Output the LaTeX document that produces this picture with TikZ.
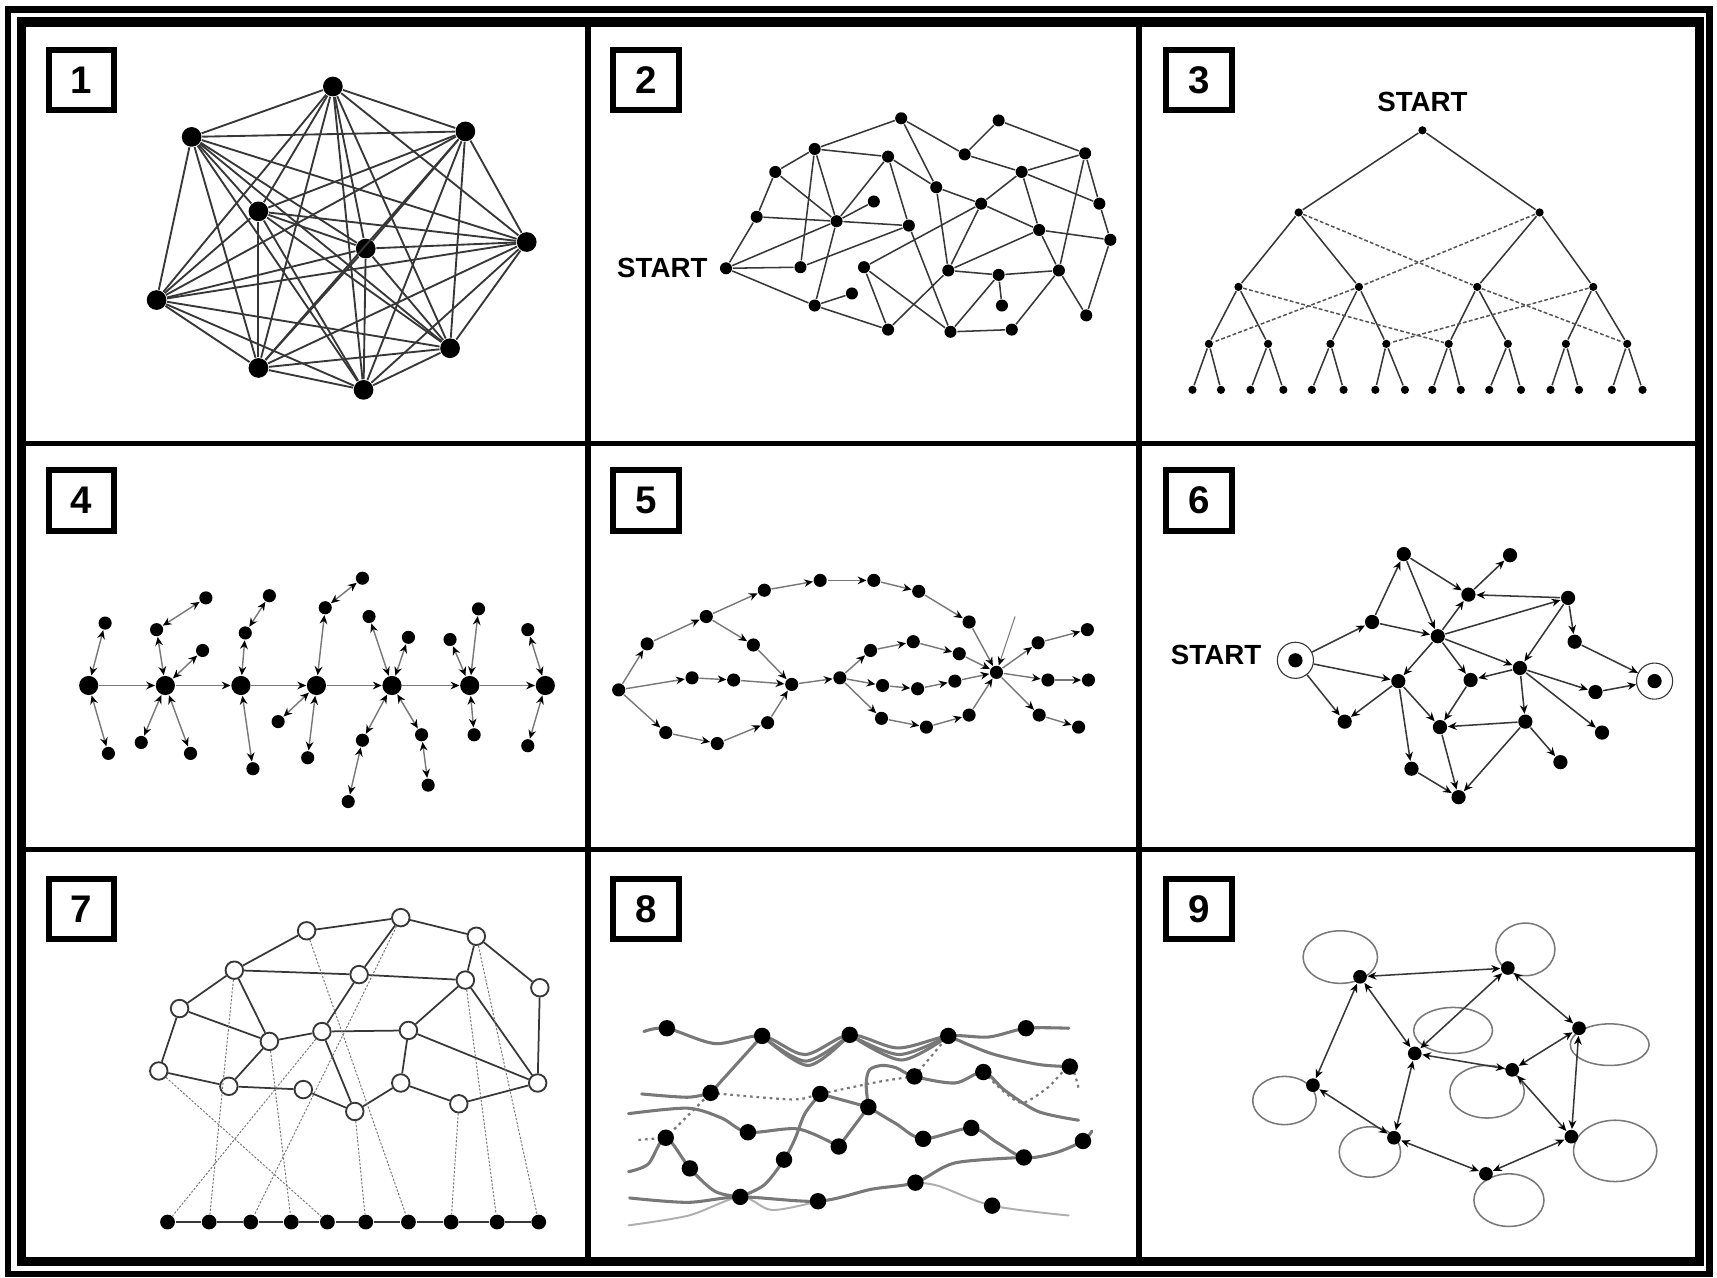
\documentclass[tikz,border=0pt]{standalone}
\usepackage{fontspec}
\setmainfont{Liberation Sans}
\usetikzlibrary{positioning,arrows.meta}
\definecolor{dgray}{RGB}{55,55,55}
\definecolor{mgray}{RGB}{120,120,120}
\definecolor{lgray}{RGB}{175,175,175}

\begin{document}
\begin{tikzpicture}[x=0.1mm, y=-0.1mm, >={Stealth[length=0.8mm, width=0.7mm, color=black]},
    blob/.style={circle, fill=black, inner sep=0pt, minimum size=#1},
    hollow/.style={circle, draw=dgray, fill=white, line width=0.17mm, inner sep=0pt, minimum size=1.6mm},
    halo/.style={circle, draw=dgray, line width=0.1mm, inner sep=0pt, minimum size=3.3mm},
    numbox/.style={draw, line width=0.55mm, minimum width=6mm, minimum height=5.5mm, inner sep=0pt, font=\fontsize{10}{12}\selectfont\bfseries},
    lbl/.style={inner sep=0pt, font=\fontsize{7.2}{8}\selectfont\bfseries},
    link/.style={draw=dgray, line width=0.14mm},
    xlink/.style={draw=dgray!85, line width=0.14mm, dash pattern=on 0.35mm off 0.2mm},
    spoke/.style={draw=mgray, line width=0.13mm},
    drop/.style={draw=mgray, line width=0.09mm, dash pattern=on 0.2mm off 0.15mm},
    wire/.style={draw=mgray, line width=0.28mm, line cap=round},
    faint/.style={draw=lgray, line width=0.18mm, line cap=round},
    dots8/.style={draw=mgray, line width=0.2mm, dash pattern=on 0.25mm off 0.35mm},
    selfloop/.style={draw=mgray, line width=0.14mm}
]

    \useasboundingbox (0,0) rectangle (1568,1167);

    % frame and grid
    \draw[line width=0.6mm] (7.5,8.5) rectangle (1561,1163.5);
    \draw[line width=0.85mm] (19.5,20) rectangle (1552,1152);
    \draw[line width=0.5mm] (537,20) -- (537,1152) (1040,20) -- (1040,1152)
        (19.5,405) -- (1552,405) (19.5,776) -- (1552,776);

    \foreach \t/\x/\y in {1/74.5/73, 2/590/73, 3/1095/73, 4/74.5/457, 5/590/457, 6/1095/457, 7/74.5/830, 8/590/830, 9/1095/830}
        \node[numbox] (box\t) at (\x,\y) {\t};

    % 1
    \foreach \n/\x/\y in {a/304/79, b/175/125, c/425/120, d/236/193, e/481/221, f/334/227, g/143/274, h/411/318, i/236/336, j/332/356}
        \node[blob=1.8mm] (p1\n) at (\x,\y) {};
    \foreach \u [count=\i] in {a,...,j} {
        \foreach \v [count=\j] in {a,...,j} {
            \ifnum\i<\j \draw[link, line width=0.17mm] (p1\u) -- (p1\v); \fi
        }
    }

    % 2
    \foreach \n/\x/\y in {st/663/245, a/708/157, b/744/136, c/823/108, d/811/143, e/691/198, f/764/202, g/798/184,
        h/830/206, i/731/244, j/744/279, k/778/268, l/789/244, m/811/301, o/855/171, p/881/141, q/912/110,
        r/896/186, s/933/157, t/991/140, u/1004/186, v/1014/219, w/949/210, x/866/247, y/912/251, z/967/247,
        aa/915/279, bb/868/303, cc/924/301, dd/992/288}
        \node[blob=1.1mm] (p2\n) at (\x,\y) {};
    \node[lbl, left=1mm of p2st] (p2lbl) {START};
    \foreach \u/\v in {st/e, st/f, st/i, st/j, a/b, a/e, a/f, b/c, b/d, b/i, b/f, c/p, c/o, d/f, d/o, d/h,
        e/f, f/h, f/g, f/j, i/h, h/bb, j/k, j/m, l/r, l/m, l/bb, m/x, o/x, p/q, p/s, q/t, r/o, r/s, r/w, r/x,
        s/t, s/u, s/w, t/u, t/z, u/v, v/w, v/dd, w/x, w/z, x/y, y/z, y/aa, y/bb, z/dd, z/cc, bb/cc}
        \draw[link] (p2\u) -- (p2\v);

    % 3
    \node[blob=0.75mm] (p3r) at (1299,119) {};
    \node[lbl, above=1.2mm of p3r] (p3lbl) {START};
    \foreach \x [count=\i] in {1186,1406}
        \node[blob=0.75mm] (p3a\i) at (\x,194) {};
    \foreach \x [count=\i] in {1131,1241,1349,1455}
        \node[blob=0.75mm] (p3b\i) at (\x,262) {};
    \foreach \x [count=\i] in {1104,1158,1215,1266,1323,1377,1430,1486}
        \node[blob=0.75mm] (p3c\i) at (\x,314) {};
    \foreach \x [count=\i] in {1089,1115,1142,1172,1198,1227,1256,1283,1308,1334,1360,1389,1416,1442,1472,1500}
        \node[blob=0.75mm] (p3d\i) at (\x,356) {};
    \draw[link] (p3r) -- (p3a1) (p3r) -- (p3a2);
    \foreach \i [evaluate=\i as \mom using {int((\i+1)/2)}] in {1,...,4}
        \draw[link] (p3a\mom) -- (p3b\i);
    \foreach \i [evaluate=\i as \mom using {int((\i+1)/2)}] in {1,...,8}
        \draw[link] (p3b\mom) -- (p3c\i);
    \foreach \i [evaluate=\i as \mom using {int((\i+1)/2)}] in {1,...,16}
        \draw[link] (p3c\mom) -- (p3d\i);
    \foreach \u/\v in {a1/b3, a2/b2, b2/c1, b3/c8, b1/c5, b4/c4}
        \draw[xlink] (p3\u) -- (p3\v);

    % 4
    \foreach \x [count=\i] in {81,151,220,289,358,429,498}
        \node[blob=1.75mm] (p4h\i) at (\x,626) {};
    \foreach \n/\x/\y in {1/96/569, 2/99/688, 3/143/575, 4/188/546, 5/185/594, 6/129/678, 7/174/688, 8/224/578,
        9/246/544, 10/231/702, 11/297/555, 12/331/528, 13/254/659, 14/281/692, 15/337/563, 16/373/582,
        17/331/676, 18/318/732, 19/385/671, 20/391/717, 21/411/584, 22/437/556, 23/433/671, 24/482/575, 25/482/681}
        \node[blob=1.2mm] (p4s\n) at (\x,\y) {};
    \foreach \i [evaluate=\i as \nxt using {int(\i+1)}] in {1,...,6}
        \draw[spoke, ->] (p4h\i) -- (p4h\nxt);
    \foreach \u/\v in {h1/s1, h1/s2, h2/s3, s3/s4, h2/s5, h2/s6, h2/s7, h3/s8, s8/s9, h3/s10, h4/s11, s11/s12,
        h4/s13, h4/s14, h5/s15, h5/s16, h5/s17, s17/s18, h5/s19, s19/s20, h6/s21, h6/s22, h6/s23, h7/s24, h7/s25}
        \draw[spoke, <->] (p4\u) -- (p4\v);

    % 5
    \foreach \n/\x/\y in {l/565/630, u1/591/588, u2/645/563, u3/698/539, u4/749/530, u5/798/530, u6/839/540,
        u7/885/568, hub/910/614, w/688/589, m1/632/619, m2/670/621, d1/608/669, d2/655/679, d3/701/660,
        ja/723/625, jb/767/619, ua/795/594, ub/834/586, uc/876/597, ma/806/626, mb/838/629, mc/872/622,
        la/805/656, lb/846/664, lc/885/653, o1/948/587, o2/993/575, o3/957/621, o4/994/621, o5/949/653, o6/985/664}
        \node[blob=1.2mm] (p5\n) at (\x,\y) {};
    \foreach \u/\v in {l/u1, u1/u2, u2/u3, u3/u4, u4/u5, u5/u6, u6/u7, u7/hub, u2/w, w/ja, l/m1, m1/m2, m2/ja,
        l/d1, d1/d2, d2/d3, d3/ja, ja/jb, jb/ua, ua/ub, ub/uc, uc/hub, jb/ma, ma/mb, mb/mc, mc/hub,
        jb/la, la/lb, lb/lc, lc/hub, hub/o1, o1/o2, hub/o3, o3/o4, hub/o5, o5/o6}
        \draw[spoke, ->] (p5\u) -- (p5\v);
    \coordinate (p5tip) at (927,563);
    \draw[drop, solid, ->] (p5tip) -- (p5hub);

    % 6
    \foreach \n/\x/\y in {st/1183/603, a/1282/506, b/1379/507, c/1341/543, d/1432/546, e/1253/568, f/1313/581,
        g/1438/586, h/1277/622, i/1343/621, j/1388/610, k/1457/632, en/1511/622, l/1228/659, m/1315/664,
        n/1393/659, o/1463/669, p/1289/702, q/1425/696, r/1332/728}
        \node[blob=1.3mm] (p6\n) at (\x,\y) {};
    \node[halo] (p6sth) at (p6st) {};
    \node[halo] (p6enh) at (p6en) {};
    \node[lbl, left=1.35mm of p6sth, yshift=0.5mm] (p6lbl) {START};
    \foreach \u/\v in {sth/e, sth/h, sth/l, h/l, e/a, e/f, a/f, a/c, c/b, d/c, f/c, f/d, d/g, g/enh, f/j, d/j,
        j/k, k/enh, j/o, j/n, j/i, f/i, f/h, h/m, i/m, n/m, h/p, p/r, m/r, n/r, n/q}
        \draw[link, ->] (p6\u) -- (p6\v);

    % 7
    \foreach \n/\x/\y in {a/280/850, b/366/838, c/435/855, d/214/886, e/328/890, f/425/895, g/493/902,
        h/164/921, i/246/951, j/294/942, k/373/941, l/145/978, m/209/992, n/277/995, o/324/1015,
        p/366/989, q/419/1008, r/491/989}
        \node[hollow] (p7\n) at (\x,\y) {};
    \foreach \x [count=\i] in {153,191,229,266,299,334,373,412,454,492}
        \node[blob=1.35mm] (p7t\i) at (\x,1116) {};
    \foreach \i [evaluate=\i as \nxt using {int(\i+1)}] in {1,...,9}
        \draw[link, line width=0.22mm] (p7t\i) -- (p7t\nxt);
    \foreach \u/\v in {a/b, b/c, c/g, a/d, d/h, h/l, d/e, e/f, d/i, h/i, i/j, i/m, l/m, m/n, n/o, o/p, p/k,
        p/q, q/r, r/g, j/e, e/b, j/k, k/f, k/r, f/r, f/c, j/o}
        \draw[link, line width=0.16mm] (p7\u) -- (p7\v);
    \foreach \u/\v in {l/t5, d/t2, a/t7, b/t3, j/t1, i/t4, o/t6, q/t8, f/t9, c/t10}
        \draw[drop] (p7\u) -- (p7\v);

    % 8
    \foreach \n/\x/\y in {1/609/939, 2/696/946, 3/776/945, 4/866/946, 5/937/939, 6/977/974, 7/898/979,
        8/835/983, 9/649/998, 10/749/999, 11/793/1011, 12/608/1039, 13/683/1034, 14/766/1047, 15/843/1040,
        16/887/1030, 17/989/1042, 18/935/1057, 19/630/1067, 20/716/1059, 21/836/1080, 22/676/1093,
        23/747/1097, 24/906/1101}
        \coordinate (p8n\n) at (\x,\y);
    \draw[faint] plot[smooth] coordinates {(574,1119) (629,1110) (p8n22) (705,1105) (p8n23)};
    \draw[faint] plot[smooth] coordinates {(p8n21) (857,1083) (p8n24) (976,1110)};
    \draw[wire] plot[smooth] coordinates {(588,942) (p8n1) (653,953) (p8n2) (735,963) (p8n3) (820,957) (p8n4) (903,947) (p8n5) (976,939)};
    \draw[wire] plot[smooth] coordinates {(p8n2) (736,969) (p8n3)};
    \draw[wire] plot[smooth] coordinates {(p8n2) (738,973) (p8n3)};
    \draw[wire] plot[smooth] coordinates {(p8n3) (821,963) (p8n4)};
    \draw[wire] plot[smooth] coordinates {(p8n3) (823,968) (p8n4)};
    \draw[wire] plot[smooth] coordinates {(p8n4) (905,962) (948,972) (p8n6)};
    \draw[wire] plot[smooth] coordinates {(586,999) (628,1002) (p8n9)};
    \draw[wire] (p8n9) -- (p8n2);
    \draw[dots8] plot[smooth] coordinates {(p8n9) (723,1004) (p8n10) (802,988) (p8n8)};
    \draw[dots8] (p8n8) -- (p8n4);
    \draw[dots8] (583,1041) -- (p8n12) -- (p8n9);
    \draw[dots8] plot[smooth] coordinates {(p8n7) (917,997) (934,1007) (957,993) (p8n6) (985,994)};
    \draw[wire] (p8n10) -- (p8n11);
    \draw[wire] plot[smooth] coordinates {(574,1017) (628,1012) (659,1021) (p8n13) (729,1031) (p8n14)};
    \draw[wire] (p8n14) -- (p8n11);
    \draw[wire] plot[smooth] coordinates {(p8n11) (818,1026) (p8n15) (p8n16) (910,1043) (p8n18) (963,1053) (p8n17) (997,1033)};
    \draw[wire] plot[smooth] coordinates {(p8n11) (791,990) (794,977) (805,973) (818,975) (p8n8) (872,989) (p8n7) (918,996) (948,1015) (985,1023)};
    \draw[wire] plot[smooth] coordinates {(p8n10) (735,1017) (726,1040) (p8n20) (698,1082) (p8n22)};
    \draw[wire] plot[smooth] coordinates {(574,1070) (592,1063) (p8n12) (p8n19) (653,1088) (p8n22)};
    \draw[wire] plot[smooth] coordinates {(575,1094) (628,1098) (p8n22) (p8n23) (796,1086) (p8n21) (872,1062) (p8n18)};
    \foreach \n in {1,...,24}
        \node[blob=1.5mm] (p8d\n) at (p8n\n) {};

    % 9
    \foreach \x/\y/\rx/\ry in {1224/874/3.4/2.4, 1393/867/2.7/2.4, 1327/941/3.6/2.1, 1470/954/3.6/1.9,
        1358/997/3.4/2.4, 1173/1005/2.9/2.2, 1251/1052/2.8/2.3, 1475/1051/3.8/2.8, 1378/1096/3.2/2.4}
        \draw[selfloop] (\x,\y) ellipse [x radius=\rx mm, y radius=\ry mm];
    \foreach \n/\x/\y in {a/1242/892, b/1377/884, c/1442/939, d/1292/962, e/1381/977, f/1199/991,
        g/1273/1039, h/1435/1038, i/1357/1072}
        \node[blob=1.25mm] (p9\n) at (\x,\y) {};
    \foreach \u/\v in {a/b, a/d, a/f, b/d, b/c, c/e, c/h, d/e, d/g, e/h, f/g, g/i, i/h}
        \draw[link, <->] (p9\u) -- (p9\v);

\end{tikzpicture}
\end{document}
